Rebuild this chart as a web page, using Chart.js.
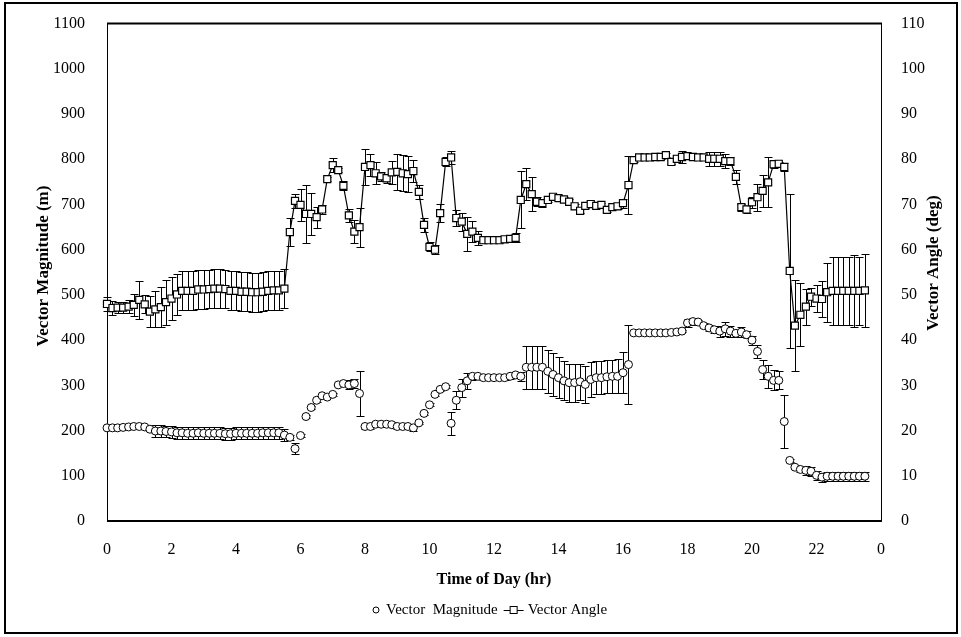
<!DOCTYPE html>
<html lang="en">
    <head>
        <meta charset="UTF-8" />
        <title>Vector Magnitude and Angle</title>
        <style>
            body {
                margin: 0;
                padding: 0;
                background: #fff;
            }

            #chart {
                display: block;
            }
        </style>
    </head>
    <body>
        <canvas id="chart" width="961" height="637"></canvas>
    </body>
    <script src="https://cdn.jsdelivr.net/npm/chart.js@4.4.0/dist/chart.umd.min.js"></script>
    <script>
        // time of day, 10 minute samples (hr)
        const hours = [
            0, 0.17, 0.33, 0.5, 0.67, 0.83,
            1, 1.17, 1.33, 1.5, 1.67, 1.83,
            2, 2.17, 2.33, 2.5, 2.67, 2.83,
            3, 3.17, 3.33, 3.5, 3.67, 3.83,
            4, 4.17, 4.33, 4.5, 4.67, 4.83,
            5, 5.17, 5.33, 5.5, 5.67, 5.83,
            6, 6.17, 6.33, 6.5, 6.67, 6.83,
            7, 7.17, 7.33, 7.5, 7.67, 7.83,
            8, 8.17, 8.33, 8.5, 8.67, 8.83,
            9, 9.17, 9.33, 9.5, 9.67, 9.83,
            10, 10.17, 10.33, 10.5, 10.67, 10.83,
            11, 11.17, 11.33, 11.5, 11.67, 11.83,
            12, 12.17, 12.33, 12.5, 12.67, 12.83,
            13, 13.17, 13.33, 13.5, 13.67, 13.83,
            14, 14.17, 14.33, 14.5, 14.67, 14.83,
            15, 15.17, 15.33, 15.5, 15.67, 15.83,
            16, 16.17, 16.33, 16.5, 16.67, 16.83,
            17, 17.17, 17.33, 17.5, 17.67, 17.83,
            18, 18.17, 18.33, 18.5, 18.67, 18.83,
            19, 19.17, 19.33, 19.5, 19.67, 19.83,
            20, 20.17, 20.33, 20.5, 20.67, 20.83,
            21, 21.17, 21.33, 21.5, 21.67, 21.83,
            22, 22.17, 22.33, 22.5, 22.67, 22.83,
            23, 23.17, 23.33, 23.5
        ];

        // Vector Magnitude (m), left axis
        const magnitude = [
            206, 206, 206, 207, 208, 209, 209, 208, 203, 199, 199, 198,
            197, 195, 195, 194, 194, 195, 194, 194, 194, 194, 193, 193,
            194, 194, 194, 194, 194, 195, 195, 195, 195, 190, 185, 160,
            189, 231, 251, 267, 277, 274, 280, 301, 304, 301, 304, 282,
            209, 209, 214, 214, 214, 213, 209, 209, 209, 206, 217, 238,
            257, 280, 291, 297, 216, 267, 295, 310, 320, 320, 317, 317,
            317, 317, 317, 320, 323, 320, 340, 340, 340, 340, 331, 324,
            317, 310, 306, 306, 308, 302, 313, 317, 317, 319, 320, 320,
            328, 346, 416, 416, 416, 416, 416, 416, 416, 417, 418, 420,
            438, 441, 440, 432, 427, 423, 420, 425, 420, 415, 418, 412,
            400, 375, 335, 320, 311, 311, 220, 134, 119, 114, 112, 110,
            101, 97, 99, 99, 99, 99, 99, 99, 99, 99
        ];
        const magnitudeErr = [
            2, 2, 2, 2, 2, 2, 2, 2, 2, 13, 13, 13,
            13, 13, 13, 13, 13, 13, 13, 13, 13, 13, 13, 13,
            13, 13, 13, 13, 13, 13, 13, 13, 13, 13, 5, 12,
            3, 3, 3, 3, 3, 3, 3, 3, 3, 10, 10, 50,
            5, 5, 5, 5, 5, 5, 5, 5, 5, 8, 3, 3,
            3, 3, 3, 3, 25, 20, 20, 17, 8, 5, 5, 5,
            5, 5, 5, 5, 5, 10, 48, 48, 47, 47, 47, 47,
            45, 43, 42, 42, 40, 40, 38, 36, 36, 36, 36, 38,
            45, 87, 3, 3, 3, 3, 3, 3, 3, 3, 3, 3,
            8, 8, 5, 5, 6, 8, 12, 15, 12, 8, 10, 8,
            10, 15, 20, 25, 22, 20, 58, 3, 5, 6, 10, 10,
            10, 10, 10, 10, 10, 10, 10, 10, 10, 10
        ];

        // Vector Angle (deg), right axis
        const angle = [
            48.0, 47.1, 47.2, 47.2, 47.4, 47.8, 48.9, 47.9, 46.3, 46.8, 47.3, 48.4,
            49.2, 50.1, 50.9, 50.9, 50.9, 51.2, 51.2, 51.3, 51.4, 51.4, 51.3, 50.9,
            50.9, 50.7, 50.7, 50.6, 50.6, 50.7, 50.9, 51.0, 51.0, 51.4, 63.9, 70.8,
            69.9, 67.9, 67.9, 67.2, 68.9, 75.6, 78.7, 77.6, 74.1, 67.6, 64.0, 65.0,
            78.3, 78.7, 76.9, 76.2, 75.8, 77.1, 77.2, 76.9, 76.7, 77.4, 72.8, 65.5,
            60.6, 60.0, 68.1, 79.4, 80.4, 67.0, 66.2, 63.5, 64.0, 62.6, 62.1, 62.1,
            62.1, 62.1, 62.3, 62.4, 62.6, 71.0, 74.5, 72.3, 70.6, 70.3, 71.0, 71.7,
            71.4, 71.1, 70.6, 69.6, 68.6, 69.7, 70.1, 69.7, 69.9, 68.8, 69.4, 69.6,
            70.3, 74.3, 79.8, 80.4, 80.4, 80.4, 80.5, 80.5, 80.9, 79.4, 80.1, 80.5,
            80.7, 80.5, 80.4, 80.4, 80.1, 80.1, 80.1, 79.6, 79.6, 76.1, 69.4, 68.9,
            70.5, 71.6, 73.0, 74.9, 78.9, 79.0, 78.3, 55.3, 43.2, 45.6, 47.4, 49.6,
            49.2, 49.1, 50.6, 50.9, 50.9, 50.9, 50.9, 50.9, 50.9, 51.0
        ];
        const angleErr = [
            1.5, 1.5, 1.2, 1.2, 1.5, 2.5, 4.2, 2, 3.4, 4, 4.5, 5,
            4.8, 4.5, 4.3, 4.3, 4.3, 4.3, 4.3, 4.3, 4.3, 4.3, 4.3, 4.3,
            4.3, 4.3, 4.3, 4.3, 4.3, 4.3, 4.3, 4.3, 4.3, 4.3, 3, 1.6,
            3.5, 6.4, 4.7, 2.3, 1, 0.5, 1.6, 0.5, 1, 1.5, 2.5, 4.3,
            4, 2.5, 2.4, 1, 1, 2.5, 4, 4, 4, 2.5, 1.5, 1.5,
            1, 1, 2, 1, 1.5, 1.8, 2, 3.7, 2.4, 1.5, 0.7, 0.5,
            0.5, 0.5, 0.5, 0.7, 1, 6.3, 3.5, 3.8, 1, 0.8, 0.5, 0.5,
            0.5, 0.5, 0.5, 0.5, 0.5, 0.5, 0.5, 0.5, 0.5, 0.5, 0.5, 0.5,
            1, 6.5, 0.5, 0.5, 0.5, 0.5, 0.5, 0.5, 0.5, 0.5, 0.8, 1.4,
            0.5, 0.5, 0.5, 0.5, 1.6, 1.6, 1.6, 1.5, 0.8, 1.6, 0.8, 0.8,
            1.2, 3, 3.5, 5.5, 0.8, 0.5, 0.8, 17, 10, 7, 4, 2,
            3, 4, 6.5, 7.5, 7.5, 7.5, 7.5, 8, 7.5, 8
        ];

        const SERIF = '"Liberation Serif", "Times New Roman", serif';

        // vertical error bars with caps, under the markers
        const errorBars = {
            id: "errorBars",
            beforeDatasetsDraw(chart) {
                const ctx = chart.ctx;
                const xs = chart.scales.x;
                ctx.save();
                ctx.strokeStyle = "#000";
                ctx.lineWidth = 1;
                [[magnitude, magnitudeErr, "y"], [angle, angleErr, "y2"]].forEach(([vals, errs, id]) => {
                    const ys = chart.scales[id];
                    vals.forEach((v, i) => {
                        const x = Math.round(xs.getPixelForValue(hours[i])) + 0.5;
                        const top = Math.round(ys.getPixelForValue(v + errs[i])) + 0.5;
                        const bot = Math.round(ys.getPixelForValue(v - errs[i])) + 0.5;
                        ctx.beginPath();
                        ctx.moveTo(x, top);
                        ctx.lineTo(x, bot);
                        ctx.moveTo(x - 4, top);
                        ctx.lineTo(x + 4, top);
                        ctx.moveTo(x - 4, bot);
                        ctx.lineTo(x + 4, bot);
                        ctx.stroke();
                    });
                });
                ctx.restore();
            },
        };

        // white page, outer border, plot frame, axis titles, legend
        const decorations = {
            id: "decorations",
            beforeDraw(chart) {
                const ctx = chart.ctx;
                ctx.save();
                ctx.fillStyle = "#fff";
                ctx.fillRect(0, 0, chart.width, chart.height);
                ctx.restore();
            },
            beforeDatasetsDraw(chart) {
                const ctx = chart.ctx;
                const a = chart.chartArea;
                ctx.save();
                ctx.strokeStyle = "#000";
                ctx.lineWidth = 1;
                ctx.beginPath();
                ctx.moveTo(a.left + 0.5, a.top);
                ctx.lineTo(a.left + 0.5, a.bottom);
                ctx.moveTo(a.right + 0.5, a.top);
                ctx.lineTo(a.right + 0.5, a.bottom);
                ctx.stroke();
                ctx.lineWidth = 2;
                ctx.beginPath();
                ctx.moveTo(a.left, a.top);
                ctx.lineTo(a.right + 1, a.top);
                ctx.moveTo(a.left, a.bottom);
                ctx.lineTo(a.right + 1, a.bottom);
                ctx.stroke();
                ctx.restore();
            },
            afterDraw(chart) {
                const ctx = chart.ctx;
                ctx.save();
                ctx.strokeStyle = "#000";
                ctx.lineWidth = 2;
                ctx.strokeRect(5, 3, 952, 630);

                ctx.fillStyle = "#000";
                ctx.textAlign = "center";
                ctx.textBaseline = "middle";
                ctx.font = "bold 17px " + SERIF;
                ctx.save();
                ctx.translate(44, 266);
                ctx.rotate(-Math.PI / 2);
                ctx.fillText("Vector Magnitude (m)", 0, 0);
                ctx.restore();
                ctx.save();
                ctx.translate(934, 263);
                ctx.rotate(-Math.PI / 2);
                ctx.fillText("Vector Angle (deg)", 0, 0);
                ctx.restore();

                ctx.font = "bold 16px " + SERIF;
                ctx.fillText("Time of Day (hr)", 494, 580);

                // legend
                const ly = 610;
                ctx.font = "15px " + SERIF;
                ctx.textAlign = "left";
                ctx.lineWidth = 1;
                ctx.fillStyle = "#fff";
                ctx.beginPath();
                ctx.arc(376, ly, 3, 0, Math.PI * 2);
                ctx.fill();
                ctx.stroke();
                ctx.fillStyle = "#000";
                const t1 = "Vector  Magnitude";
                ctx.fillText(t1, 386, ly);
                const lx = 386 + ctx.measureText(t1).width + 6;
                ctx.beginPath();
                ctx.moveTo(lx, ly + 0.5);
                ctx.lineTo(lx + 20, ly + 0.5);
                ctx.stroke();
                ctx.fillStyle = "#fff";
                ctx.fillRect(lx + 6.5, ly - 3.5, 7, 7);
                ctx.strokeRect(lx + 6.5, ly - 3.5, 7, 7);
                ctx.fillStyle = "#000";
                ctx.fillText("Vector Angle", lx + 24, ly);
                ctx.restore();
            },
        };

        const tickFont = { family: SERIF, size: 16 };
        const plain = (v) => String(v);

        new Chart(document.getElementById("chart"), {
            type: "line",
            data: {
                datasets: [
                    {
                        label: "Vector  Magnitude",
                        data: hours.map((h, i) => ({ x: h, y: magnitude[i] })),
                        yAxisID: "y",
                        showLine: false,
                        pointStyle: "circle",
                        pointRadius: 4,
                        pointBackgroundColor: "#fff",
                        pointBorderColor: "#000",
                        pointBorderWidth: 1,
                        clip: 10,
                    },
                    {
                        label: "Vector Angle",
                        data: hours.map((h, i) => ({ x: h, y: angle[i] })),
                        yAxisID: "y2",
                        borderColor: "#000",
                        borderWidth: 1.2,
                        tension: 0,
                        pointStyle: "rect",
                        pointRadius: 5,
                        pointBackgroundColor: "#fff",
                        pointBorderColor: "#000",
                        pointBorderWidth: 1.2,
                        clip: 10,
                    },
                ],
            },
            options: {
                responsive: false,
                animation: false,
                devicePixelRatio: 1,
                layout: { padding: { top: 22, left: 0, right: 0, bottom: 0 } },
                plugins: {
                    legend: { display: false },
                    tooltip: { enabled: false },
                },
                scales: {
                    x: {
                        type: "linear",
                        min: 0,
                        max: 24,
                        grid: { display: false },
                        border: { display: false },
                        ticks: {
                            stepSize: 2,
                            color: "#000",
                            font: tickFont,
                            padding: 11,
                            maxRotation: 0,
                            callback: (v) => String(v % 24),
                        },
                        afterFit: (s) => { s.height = 116; },
                    },
                    y: {
                        position: "left",
                        min: 0,
                        max: 1100,
                        grid: { display: false },
                        border: { display: false },
                        ticks: { stepSize: 100, color: "#000", font: tickFont, padding: 14, callback: plain },
                        afterFit: (s) => { s.width = 107; },
                    },
                    y2: {
                        position: "right",
                        min: 0,
                        max: 110,
                        grid: { display: false },
                        border: { display: false },
                        ticks: { stepSize: 10, color: "#000", font: tickFont, padding: 12, callback: plain },
                        afterFit: (s) => { s.width = 80; },
                    },
                },
            },
            plugins: [decorations, errorBars],
        });
    </script>
</html>
